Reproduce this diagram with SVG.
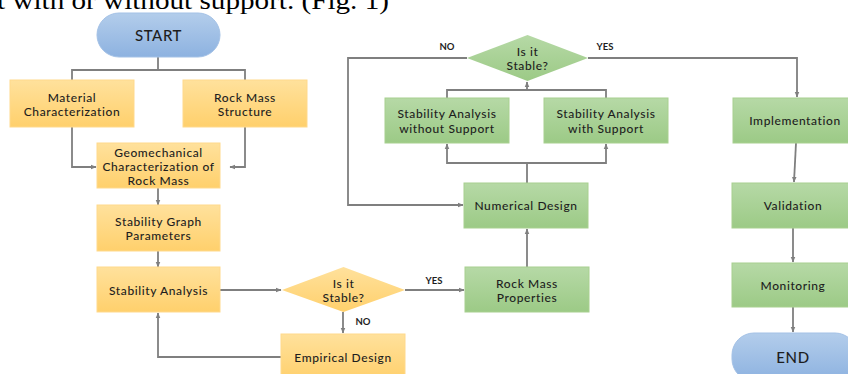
<svg xmlns="http://www.w3.org/2000/svg" width="848" height="374" viewBox="0 0 848 374">
<defs>
<linearGradient id="gO" x1="0" y1="0" x2="0" y2="1"><stop offset="0" stop-color="#FFE19C"/><stop offset="1" stop-color="#FFD06C"/></linearGradient>
<linearGradient id="gG" x1="0" y1="0" x2="0" y2="1"><stop offset="0" stop-color="#B6D9A6"/><stop offset="1" stop-color="#9CCA86"/></linearGradient>
<linearGradient id="gB" x1="0" y1="0" x2="0" y2="1"><stop offset="0" stop-color="#B3CDEB"/><stop offset="1" stop-color="#8DB2E0"/></linearGradient>
<marker id="ah" viewBox="0 0 10 10" refX="9" refY="5" markerWidth="6" markerHeight="6" orient="auto" markerUnits="userSpaceOnUse"><path d="M0,1 L10,5 L0,9 z" fill="#7F7F7F"/></marker>
</defs>
<style>
.o{fill:url(#gO);stroke:#FFD98C;stroke-width:1}
.g{fill:url(#gG);stroke:#A8D08F;stroke-width:1}
.b{fill:url(#gB);stroke:#A3C1E6;stroke-width:1}
text{font-family:Lato,"Open Sans","Liberation Sans",sans-serif;font-size:12px;font-weight:500;letter-spacing:0.6px;fill:#1E1E1E;text-anchor:middle;dominant-baseline:central}
.big{font-size:15px}
.lbl{font-size:9.5px;font-weight:700;letter-spacing:0}
.ln{fill:none;stroke:#7F7F7F;stroke-width:1.8}
.ser{font-family:"Liberation Serif",serif;font-size:26px;font-weight:400;letter-spacing:0;fill:#000;text-anchor:start;dominant-baseline:auto}
</style>
<text class="ser" x="-3" y="9" textLength="392" lengthAdjust="spacingAndGlyphs">t with or without support. (Fig. 1)</text>
<g id="connectors">
<path class="ln" d="M158,57 V70 H72 V80"/>
<path class="ln" d="M158,70 H245 V80"/>
<path class="ln" d="M72,127 V167 H96" marker-end="url(#ah)"/>
<path class="ln" d="M245,127 V167 H230" marker-end="url(#ah)"/>
<path class="ln" d="M158,188 V205" marker-end="url(#ah)"/>
<path class="ln" d="M158,251 V267" marker-end="url(#ah)"/>
<path class="ln" d="M220,290 H281" marker-end="url(#ah)"/>
<path class="ln" d="M343,312 V333" marker-end="url(#ah)"/>
<path class="ln" d="M281,357 H158 V313" marker-end="url(#ah)"/>
<path class="ln" d="M405,290 H464" marker-end="url(#ah)"/>
<path class="ln" d="M527,267 V229" marker-end="url(#ah)"/>
<path class="ln" d="M527,183 V163 H447 V144" marker-end="url(#ah)"/>
<path class="ln" d="M527,163 H606 V144" marker-end="url(#ah)"/>
<path class="ln" d="M447,98 V90 H606 V98"/>
<path class="ln" d="M527,90 V82" marker-end="url(#ah)"/>
<path class="ln" d="M467,58 H348 V205 H463" marker-end="url(#ah)"/>
<path class="ln" d="M588,58 H797 V97" marker-end="url(#ah)"/>
<path class="ln" d="M796,143 L794,182" marker-end="url(#ah)"/>
<path class="ln" d="M793,228 V262" marker-end="url(#ah)"/>
<path class="ln" d="M793,307 V332" marker-end="url(#ah)"/>
<text class="lbl" x="363" y="321">NO</text>
<text class="lbl" x="434" y="280">YES</text>
<text class="lbl" x="447" y="46">NO</text>
<text class="lbl" x="605" y="46">YES</text>
</g>
<g id="start"><rect class="b" x="97" y="13" width="123" height="44" rx="22"/><text class="big" x="158.5" y="35">START</text></g>
<g id="material"><rect class="o" x="10" y="80" width="124" height="47"/><text x="72" y="97">Material</text><text x="72" y="111">Characterization</text></g>
<g id="rockstructure"><rect class="o" x="183" y="80" width="124" height="47"/><text x="245" y="97">Rock Mass</text><text x="245" y="111">Structure</text></g>
<g id="geomech"><rect class="o" x="97" y="143" width="123" height="45"/><text x="158.5" y="152">Geomechanical</text><text x="158.5" y="166">Characterization of</text><text x="158.5" y="180">Rock Mass</text></g>
<g id="graphparams"><rect class="o" x="97" y="205" width="123" height="46"/><text x="158.5" y="221">Stability Graph</text><text x="158.5" y="235">Parameters</text></g>
<g id="stabanalysis"><rect class="o" x="97" y="267" width="123" height="45"/><text x="158.5" y="290">Stability Analysis</text></g>
<g id="decision1"><polygon points="282,290 343.5,267 405,290 343.5,312" fill="url(#gO)"/><text x="343.5" y="283">Is it</text><text x="343.5" y="297">Stable?</text></g>
<g id="empirical"><rect class="o" x="281" y="334" width="124" height="46"/><text x="343" y="357">Empirical Design</text></g>
<g id="rockprops"><rect class="g" x="465" y="267" width="124" height="45"/><text x="527" y="283">Rock Mass</text><text x="527" y="297">Properties</text></g>
<g id="numerical"><rect class="g" x="464" y="183" width="124" height="45"/><text x="526" y="205">Numerical Design</text></g>
<g id="without"><rect class="g" x="385" y="98" width="124" height="45"/><text x="447" y="113">Stability Analysis</text><text x="447" y="128">without Support</text></g>
<g id="with"><rect class="g" x="544" y="98" width="124" height="45"/><text x="606" y="113">Stability Analysis</text><text x="606" y="128">with Support</text></g>
<g id="decision2"><polygon points="467,58 527.5,35 588,58 527.5,81" fill="url(#gG)"/><text x="527.5" y="51">Is it</text><text x="527.5" y="65">Stable?</text></g>
<g id="implementation"><rect class="g" x="733" y="98" width="125" height="45"/><text x="795" y="120">Implementation</text></g>
<g id="validation"><rect class="g" x="732" y="183" width="125" height="45"/><text x="793" y="205">Validation</text></g>
<g id="monitoring"><rect class="g" x="732" y="263" width="125" height="44"/><text x="793" y="285">Monitoring</text></g>
<g id="end"><rect class="b" x="732" y="333" width="125" height="48" rx="22"/><text class="big" x="793" y="357">END</text></g>
</svg>
